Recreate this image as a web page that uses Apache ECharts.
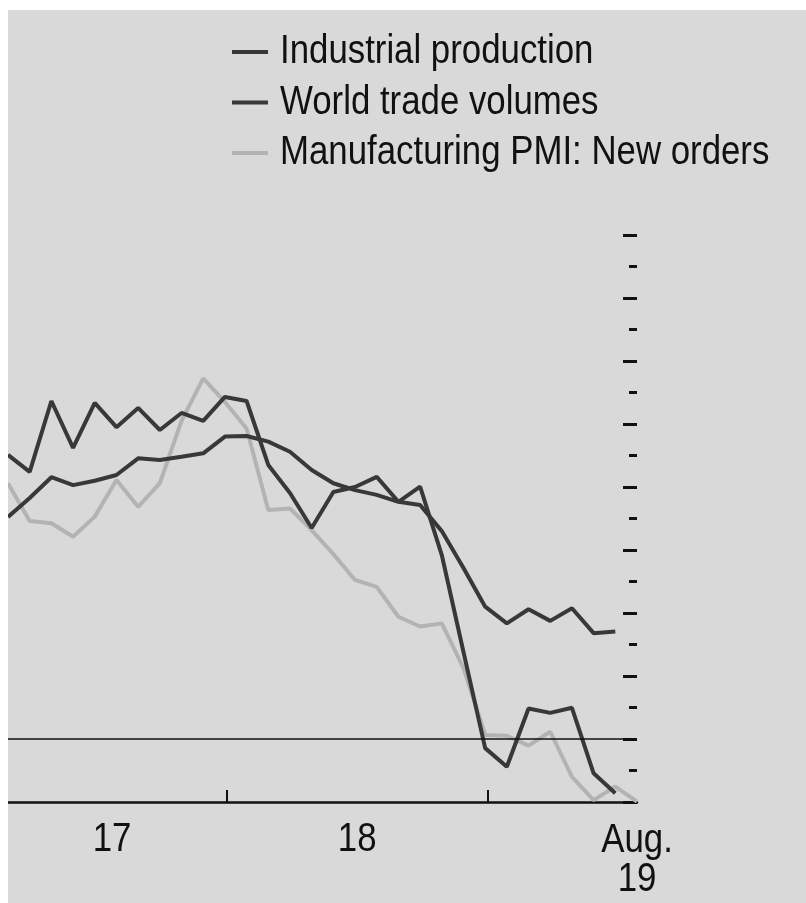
<!DOCTYPE html>
<html>
<head>
<meta charset="utf-8">
<script src="https://cdn.jsdelivr.net/npm/echarts@6/dist/echarts.min.js"></script>
<style>
  html, body { margin: 0; padding: 0; background: #ffffff; }
  #chart { position: absolute; left: 8px; top: 10px; width: 798px; height: 893px; background: #d9d9d9; }
</style>
</head>
<body>
<div id="chart"></div>
<script>
// months Mar 2017 .. Aug 2019
var months = ['Mar17','Apr17','May17','Jun17','Jul17','Aug17','Sep17','Oct17','Nov17','Dec17',
  'Jan18','Feb18','Mar18','Apr18','May18','Jun18','Jul18','Aug18','Sep18','Oct18','Nov18','Dec18',
  'Jan19','Feb19','Mar19','Apr19','May19','Jun19','Jul19','Aug19'];

var industrialProduction = [7.05, 7.65, 8.31, 8.06, 8.20, 8.38, 8.91, 8.86, 8.96, 9.07,
  9.60, 9.62, 9.44, 9.12, 8.54, 8.12, 7.90, 7.75, 7.53, 7.43, 6.60, 5.43,
  4.20, 3.67, 4.12, 3.75, 4.15, 3.36, 3.41, null];

var worldTrade = [9.02, 8.48, 10.73, 9.24, 10.67, 9.90, 10.51, 9.81, 10.35, 10.10,
  10.86, 10.73, 8.70, 7.81, 6.70, 7.84, 8.00, 8.32, 7.53, 8.01, 5.84, 2.76,
  -0.29, -0.88, 0.97, 0.83, 0.99, -1.09, -1.72, null];

var pmiNewOrders = [8.12, 6.92, 6.85, 6.42, 7.06, 8.22, 7.37, 8.12, 10.10, 11.45,
  10.70, 9.86, 7.27, 7.32, 6.63, 5.87, 5.05, 4.83, 3.88, 3.57, 3.67, 2.25,
  0.13, 0.10, -0.21, 0.23, -1.20, -1.94, -1.51, -1.99];

var seriesNames = ['Industrial production', 'World trade volumes', 'Manufacturing PMI: New orders'];
var seriesColors = ['#383838', '#383838', '#b3b3b3'];

var yearTicks = [10.1, 22.1];            // Jan 2018, Jan 2019
var xLabelAt = [4.8, 16.1, 29];
var xLabels = ['17', '18', 'Aug.\n19'];

var FONT = "'Liberation Sans', Arial, sans-serif";
var SQUEEZE = 0.87;   // narrow the type like a condensed face

function pairs(arr) {
  return arr.map(function (v, i) { return [i, v]; });
}

var myChart = echarts.init(document.getElementById('chart'));

var option = {
  animation: false,
  backgroundColor: 'transparent',
  grid: { left: -3, right: 169, top: 225, bottom: 101 },
  xAxis: {
    type: 'value',
    min: 0,
    max: months.length - 1,
    splitLine: { show: false },
    axisLine: { show: true, onZero: false, lineStyle: { color: '#111', width: 2.5 } },
    axisTick: { show: true, inside: true, length: 12, customValues: yearTicks, lineStyle: { color: '#111', width: 2 } },
    axisLabel: { show: false }
  },
  yAxis: {
    type: 'value',
    position: 'right',
    min: -2,
    max: 16,
    interval: 2,
    splitLine: { show: false },
    axisLine: { show: true, onZero: false, lineStyle: { color: 'rgba(0,0,0,0)', width: 0 } },
    axisLabel: { show: false },
    axisTick: { show: true, inside: true, length: 14, lineStyle: { color: '#111', width: 3 } },
    minorTick: { show: true, splitNumber: 2, length: 8, lineStyle: { color: '#111', width: 3 } }
  },
  series: [
    {
      name: seriesNames[2],
      type: 'line',
      data: pairs(pmiNewOrders),
      symbol: 'none',
      lineStyle: { width: 4, color: seriesColors[2] },
      z: 2,
      markLine: {
        silent: true,
        symbol: 'none',
        label: { show: false },
        lineStyle: { color: '#111', width: 1.5, type: 'solid' },
        data: [{ yAxis: 0 }]
      }
    },
    {
      name: seriesNames[0],
      type: 'line',
      data: pairs(industrialProduction),
      symbol: 'none',
      lineStyle: { width: 4, color: seriesColors[0] },
      z: 3
    },
    {
      name: seriesNames[1],
      type: 'line',
      data: pairs(worldTrade),
      symbol: 'none',
      lineStyle: { width: 4, color: seriesColors[1] },
      z: 4
    }
  ]
};

myChart.setOption(option);

// legend and x labels as text, squeezed horizontally
var graphics = [];
seriesNames.forEach(function (name, k) {
  var cy = 42 + k * 50.5;
  graphics.push({
    type: 'line',
    shape: { x1: 224, y1: cy, x2: 260, y2: cy },
    style: { stroke: seriesColors[k], lineWidth: 4 }
  });
  graphics.push({
    type: 'text',
    x: 272, y: cy,
    scaleX: SQUEEZE,
    style: { text: name, font: '40px ' + FONT, fill: '#111', textAlign: 'left', textVerticalAlign: 'middle' }
  });
});

var baseY = myChart.convertToPixel({ yAxisIndex: 0 }, -2);
xLabelAt.forEach(function (v, k) {
  graphics.push({
    type: 'text',
    x: myChart.convertToPixel({ xAxisIndex: 0 }, v),
    y: baseY + (k === 2 ? 19 : 18),
    scaleX: SQUEEZE,
    style: { text: xLabels[k], font: '40px ' + FONT, lineHeight: 39, fill: '#111', textAlign: 'center', textVerticalAlign: 'top' }
  });
});

myChart.setOption({ graphic: graphics });
</script>
</body>
</html>
